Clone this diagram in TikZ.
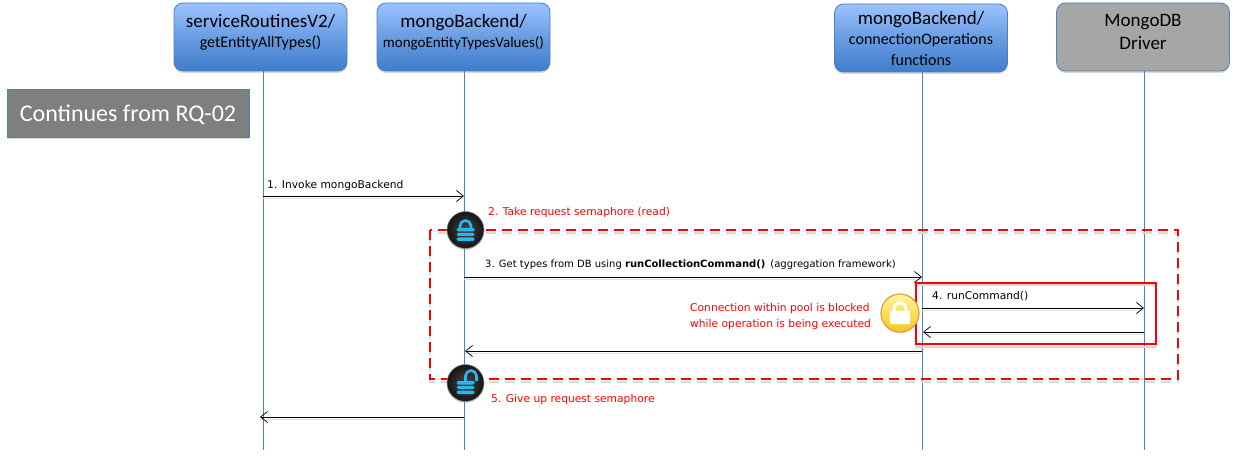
\documentclass[tikz,border=0pt]{standalone}
\usepackage{fontspec}
\setmainfont{Carlito}
\newfontfamily\msgfont{DejaVu Sans}
\usetikzlibrary{positioning}
\usetikzlibrary{shadows}
\usetikzlibrary{arrows.meta}
\definecolor{boxtop}{HTML}{9DC3FF}
\definecolor{boxbot}{HTML}{3E7DCB}
\definecolor{boxline}{HTML}{4F81BD}
\definecolor{drvgray}{HTML}{A6A6A6}
\definecolor{contgray}{HTML}{7F7F7F}
\definecolor{lockblue}{HTML}{2BB6EE}
\definecolor{locktop}{HTML}{FFF6A0}
\definecolor{lockbot}{HTML}{F6C81E}
\definecolor{lockrim}{HTML}{D8A33A}
\tikzset{
	comp/.style={rounded corners=9pt,draw=boxline,line width=0.8pt,minimum width=173pt,minimum height=68pt,text width=173pt,align=center,inner sep=0pt,drop shadow={shadow xshift=0pt,shadow yshift=-2pt,opacity=0.3}},
	bluecomp/.style={comp,top color=boxtop,bottom color=boxbot,middle color=boxtop!45!boxbot},
	life/.style={boxline,line width=0.8pt},
	msg/.style={black,line width=0.8pt,-{Straight Barb[length=7pt,width=11pt,line width=0.7pt]},preaction={draw=black!12,line width=1.6pt,-,transform canvas={yshift=-2.5pt}}},
	msgtxt/.style={font=\msgfont\fontsize{10.7}{16}\selectfont,inner sep=0pt,anchor=west,text=black},
	redtxt/.style={msgtxt,text=red,align=left},
	darklock/.style={circle,minimum size=37pt,inner sep=0pt,inner color=black!72,outer color=black!92,draw=black!45,line width=0.6pt,drop shadow={shadow xshift=0pt,shadow yshift=-1.5pt,opacity=0.3}},
	yellowlock/.style={circle,minimum size=38pt,inner sep=0pt,top color=locktop,bottom color=lockbot,draw=lockrim,line width=1.2pt,drop shadow={shadow xshift=0pt,shadow yshift=-1.5pt,opacity=0.3}}
}
\begin{document}
\begin{tikzpicture}[x=1pt,y=-1pt]
	\useasboundingbox (0,0) rectangle (1235,457);
	\fill[white] (0,0) rectangle (1235,457);

	\node[bluecomp,font=\fontsize{19}{21}\selectfont] (SR) at (260.5,37) {serviceRoutinesV2/\\[-1pt]{\fontsize{16}{18}\selectfont getEntityAllTypes()}\\[-9pt]\mbox{}};
	\node[bluecomp,font=\fontsize{19}{21}\selectfont] (MB) at (463.5,37) {mongoBackend/\\[-1pt]{\fontsize{15}{18}\selectfont mongoEntityTypesValues()}\\[-9pt]\mbox{}};
	\node[bluecomp,font=\fontsize{19}{21}\selectfont] (CO) at (921,38) {mongoBackend/\\[1pt]{\fontsize{16}{19}\selectfont connectionOperations\\functions}};
	\node[comp,fill=drvgray,font=\fontsize{19}{23}\selectfont] (DR) at (1143,37) {MongoDB\\Driver\\[-13pt]\mbox{}};

	\node[fill=contgray,draw=boxline,line width=0.6pt,minimum width=242pt,minimum height=48pt,inner sep=0pt,text=white,text height=18pt,text depth=0pt,font=\fontsize{24}{26}\selectfont,drop shadow={shadow xshift=0pt,shadow yshift=-2pt,opacity=0.25}] (RQ) at (128,113) {Continues from RQ-02};

	\coordinate (SRend) at (263,450);
	\coordinate (MBend) at (464.5,450);
	\coordinate (COend) at (922.5,450);
	\coordinate (DRend) at (1144.5,450);
	\coordinate (SRtop) at (263,71);
	\coordinate (MBtop) at (464.5,71);
	\coordinate (COtop) at (922.5,72);
	\coordinate (DRtop) at (1144.5,71);

	\draw[life] (SRtop) -- (SRend);
	\draw[life] (MBtop) -- (MBend);
	\draw[life] (COtop) -- (COend);
	\draw[life] (DRtop) -- (DRend);

	\coordinate (DA) at (429.5,230);
	\coordinate (DB) at (1177.5,379);
	\coordinate (RA) at (915.5,283);
	\coordinate (RB) at (1156,344);
	\draw[black!15,line width=2pt,dash pattern=on 10pt off 6pt,transform canvas={yshift=-3pt}] (DA) rectangle (DB);
	\draw[red,line width=2pt,dash pattern=on 10pt off 6pt] (DA) rectangle (DB);
	\draw[black!15,line width=2pt,transform canvas={yshift=-2.5pt}] (RA) rectangle (RB);
	\draw[red,line width=2pt] (RA) rectangle (RB);

	\coordinate (S1) at (263,196);
	\coordinate (M1) at (464,196);
	\coordinate (M3) at (464,277);
	\coordinate (C3) at (922,277);
	\coordinate (C4) at (922,308);
	\coordinate (D4) at (1144,308);
	\coordinate (D5) at (1144,332);
	\coordinate (C5) at (923,332);
	\coordinate (C6) at (922,351);
	\coordinate (M6) at (465,351);
	\coordinate (M7) at (464,417);
	\coordinate (S7) at (260,417);

	\draw[msg] (S1) -- (M1);
	\draw[msg] (M3) -- (C3);
	\draw[msg] (C4) -- (D4);
	\draw[msg] (D5) -- (C5);
	\draw[msg] (C6) -- (M6);
	\draw[msg] (M7) -- (S7);

	\node[msgtxt] (T1) at (267,186) {1. Invoke mongoBackend};
	\node[redtxt] (T2) at (488,212.5) {2. Take request semaphore (read)};
	\node[msgtxt,font=\msgfont\fontsize{10}{12}\selectfont] (T3) at (485,264.5) {3. Get types from DB using \textbf{runCollectionCommand()}\enspace(aggregation framework)};
	\node[msgtxt] (T4) at (932,296.5) {4. runCommand()};
	\node[redtxt] (T6) at (690,316.5) {Connection within pool is blocked\\while operation is being executed};
	\node[redtxt] (T5) at (491,399.5) {5. Give up request semaphore};

	\node[darklock] (L1) at (465.5,230) {};
	\draw[lockblue,line width=2.6pt] ([shift={(-5.5,0)}]L1.center) -- ++(0,-4) arc[start angle=180,end angle=360,radius=5.5] -- ++(0,4);
	\fill[lockblue,rounded corners=1.5pt] ([shift={(-9,-2)}]L1.center) rectangle ([shift={(9,1.5)}]L1.center);
	\fill[lockblue,rounded corners=1.5pt] ([shift={(-9,3)}]L1.center) rectangle ([shift={(9,6)}]L1.center);
	\fill[lockblue,rounded corners=1.5pt] ([shift={(-9,7.5)}]L1.center) rectangle ([shift={(9,11)}]L1.center);

	\node[darklock] (L2) at (465.5,383) {};
	\draw[lockblue,line width=2.6pt] ([shift={(0,-2)}]L2.center) -- ++(0,-5) arc[start angle=180,end angle=360,radius=5.5] -- ++(0,5);
	\fill[lockblue,rounded corners=1.5pt] ([shift={(-9,-2)}]L2.center) rectangle ([shift={(9,1.5)}]L2.center);
	\fill[lockblue,rounded corners=1.5pt] ([shift={(-9,3)}]L2.center) rectangle ([shift={(9,6)}]L2.center);
	\fill[lockblue,rounded corners=1.5pt] ([shift={(-9,7.5)}]L2.center) rectangle ([shift={(9,11)}]L2.center);

	\node[yellowlock] (L3) at (900,313) {};
	\draw[white,line width=3pt] ([shift={(-6,0)}]L3.center) -- ++(0,-4) arc[start angle=180,end angle=360,radius=6] -- ++(0,4);
	\fill[white,rounded corners=1pt] ([shift={(-10,-2)}]L3.center) rectangle ([shift={(10,11)}]L3.center);
\end{tikzpicture}
\end{document}
